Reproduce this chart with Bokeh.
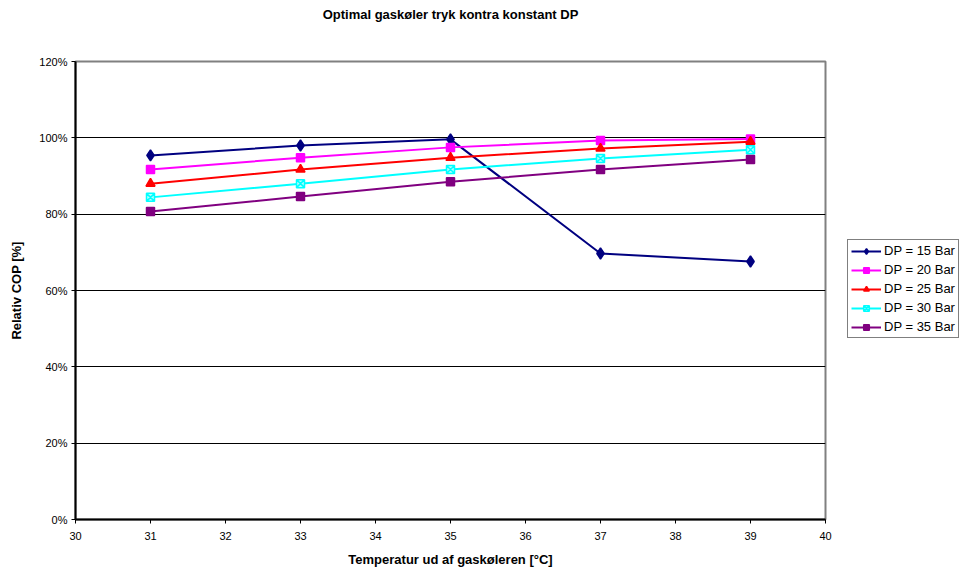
from bokeh.plotting import figure
from bokeh.models import (Range1d, FixedTicker, NumeralTickFormatter, Legend, LegendItem, Title)
from bokeh.embed import file_html
from bokeh.resources import INLINE

temps = [31, 33, 35, 37, 39]
dp15 = [0.954, 0.980, 0.996, 0.697, 0.676]
dp20 = [0.917, 0.948, 0.975, 0.993, 0.997]
dp25 = [0.880, 0.917, 0.948, 0.972, 0.990]
dp30 = [0.844, 0.880, 0.917, 0.946, 0.969]
dp35 = [0.807, 0.846, 0.885, 0.917, 0.943]
series_labels = ["DP = 15 Bar", "DP = 20 Bar", "DP = 25 Bar", "DP = 30 Bar", "DP = 35 Bar"]
x_ticks = [30, 31, 32, 33, 34, 35, 36, 37, 38, 39, 40]
y_ticks = [0, 0.2, 0.4, 0.6, 0.8, 1.0, 1.2]
title_text = "Optimal gaskøler tryk kontra konstant DP"

FONT = "Liberation Sans"

p = figure(frame_width=750, frame_height=458, output_backend="svg", toolbar_location=None,
           x_range=Range1d(30, 40), y_range=Range1d(0, 1.2),
           min_border_left=75, min_border_right=0, min_border_top=61, min_border_bottom=53)
p.title = None

# spacer between frame and title
p.add_layout(Title(text=" ", text_font=FONT, text_font_size="13px", standoff=23), "above")
p.add_layout(Title(text=title_text, align="center", offset=-4, text_font=FONT,
                   text_font_size="13px", text_font_style="bold", text_color="black",
                   standoff=0), "above")

p.outline_line_color = "#808080"
p.outline_line_width = 2
p.background_fill_color = "white"
p.border_fill_color = "white"

p.xgrid.visible = False
p.ygrid.ticker = FixedTicker(ticks=y_ticks[1:-1])
p.ygrid.grid_line_color = "black"
p.ygrid.grid_line_width = 1

p.xaxis.ticker = FixedTicker(ticks=x_ticks)
p.yaxis.ticker = FixedTicker(ticks=y_ticks)
p.yaxis.formatter = NumeralTickFormatter(format="0%")
for ax in (p.xaxis[0], p.yaxis[0]):
    ax.axis_line_color = "black"
    ax.axis_line_width = 2
    ax.major_tick_line_color = "black"
    ax.major_tick_line_width = 1
    ax.major_tick_out = 4
    ax.major_tick_in = 0
    ax.minor_tick_line_color = None
    ax.major_label_text_font = FONT
    ax.major_label_text_font_size = "11px"
    ax.major_label_text_color = "black"
    ax.axis_label_text_font = FONT
    ax.axis_label_text_font_size = "13px"
    ax.axis_label_text_font_style = "bold"
    ax.axis_label_text_color = "black"

p.xaxis.axis_label = "Temperatur ud af gaskøleren [°C]"
p.yaxis.axis_label = "Relativ COP [%]"
p.xaxis.major_label_standoff = 8
p.xaxis.axis_label_standoff = 9
p.yaxis.major_label_standoff = 4
p.yaxis.axis_label_standoff = 12

specs = [
    (dp15, "#000080", "diamond", "#000080", 11),
    (dp20, "#FF00FF", "square", "#FF00FF", 8),
    (dp25, "#FF0000", "triangle", "#FF0000", 9),
    (dp30, "#00FFFF", "square_x", "#B0FFFF", 8),
    (dp35, "#800080", "square_x", "#800080", 8),
]
items = []
for (vals, col, mk, fill, sz), lab in zip(specs, series_labels):
    r1 = p.line(temps, vals, line_color=col, line_width=2)
    r2 = p.scatter(temps, vals, marker=mk, size=sz, line_color=col, fill_color=fill, line_width=1.5)
    items.append(LegendItem(label=lab, renderers=[r1, r2]))

legend = Legend(items=items, location=(22, 181))
legend.border_line_color = "black"
legend.border_line_width = 1
legend.label_text_font = FONT
legend.label_text_font_size = "13px"
legend.label_text_color = "black"
legend.glyph_width = 30
legend.glyph_height = 14
legend.label_height = 14
legend.spacing = 4
legend.padding = 3
legend.margin = 15
legend.label_standoff = 3
legend.background_fill_alpha = 1
p.add_layout(legend, "right")

open("out.html", "w").write(file_html(p, INLINE))
